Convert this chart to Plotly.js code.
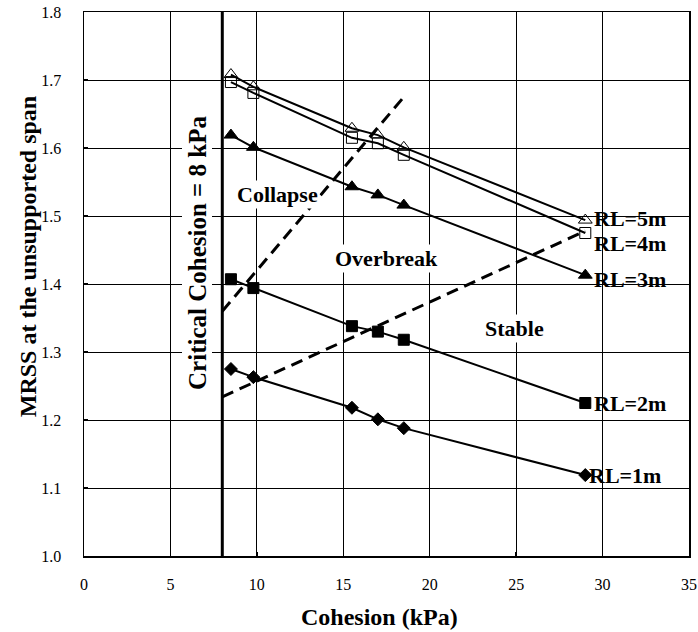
<!DOCTYPE html>
<html>
<head>
<meta charset="utf-8">
<script src="https://cdn.plot.ly/plotly-3.0.1.min.js"></script>
<style>html,body{margin:0;padding:0;background:#fff;}</style>
</head>
<body>
<div id="chart" style="width:698px;height:632px;"></div>
<script>
// Data
const cohesion = [8.5, 9.8, 15.5, 17.0, 18.5, 29.0];
const rl5 = [1.708, 1.690, 1.629, 1.619, 1.601, 1.494];
const rl4 = [1.697, 1.681, 1.615, 1.607, 1.590, 1.475];
const rl3 = [1.619, 1.601, 1.543, 1.531, 1.516, 1.413];
const rl2 = [1.407, 1.394, 1.338, 1.330, 1.318, 1.225];
const rl1 = [1.275, 1.263, 1.218, 1.201, 1.188, 1.119];
const seriesNames = ['RL=1m', 'RL=2m', 'RL=3m', 'RL=4m', 'RL=5m'];
const criticalX = [8, 8];
const criticalY = [1.0, 1.8];
const collapseLineX = [8.0, 18.4];
const collapseLineY = [1.360, 1.672];
const stableLineX = [8.0, 29.0];
const stableLineY = [1.234, 1.478];

const FONT = 'Liberation Serif, Times New Roman, serif';
const lineW = 2;

function series(y, name, symbol, size) {
  return {
    x: cohesion, y: y, name: name, type: 'scatter', mode: 'lines+markers',
    line: {color: '#000', width: lineW},
    marker: {symbol: symbol, size: size, color: '#000', line: {color: '#000', width: 1}},
    cliponaxis: false
  };
}

const traces = [
  {x: criticalX, y: criticalY, mode: 'lines', line: {color: '#000', width: 3}, cliponaxis: false},
  {x: collapseLineX, y: collapseLineY, mode: 'lines', line: {color: '#000', width: 3, dash: '12px,7px'}},
  {x: stableLineX, y: stableLineY, mode: 'lines', line: {color: '#000', width: 3, dash: '12px,7px'}},
  series(rl1, seriesNames[0], 'diamond', 10),
  series(rl2, seriesNames[1], 'square', 11),
  series(rl3, seriesNames[2], 'triangle-up', 12),
  series(rl4, seriesNames[3], 'square-open', 11),
  series(rl5, seriesNames[4], 'triangle-up-open', 12)
];

const endY = [rl1[5], rl2[5], rl3[5] - 0.006, rl4[5] - 0.015, rl5[5] + 0.003];
const annotations = seriesNames.map((t, i) => ({
  x: cohesion[5], y: endY[i], xref: 'x', yref: 'y', text: t, showarrow: false,
  xanchor: 'left', yanchor: 'middle', xshift: i === 0 ? 2 : 7,
  font: {family: FONT, size: 22, color: '#000', weight: 'bold'}
}));
const regionFont = {family: FONT, size: 22, color: '#000', weight: 'bold'};
annotations.push(
  {x: 11.18, y: 1.531, text: 'Collapse', showarrow: false, bgcolor: '#fff', font: regionFont},
  {x: 17.5, y: 1.438, text: 'Overbreak', showarrow: false, bgcolor: '#fff', font: regionFont},
  {x: 24.9, y: 1.334, text: 'Stable', showarrow: false, bgcolor: '#fff', font: regionFont},
  {x: 6.55, y: 1.446, text: 'Critical Cohesion = 8 kPa', textangle: -90, showarrow: false,
   bgcolor: '#fff', font: {family: FONT, size: 25, color: '#000', weight: 'bold'}},
  {xref: 'paper', yref: 'paper', x: -0.0926, y: 0.551, text: 'MRSS at the unsupported span',
   textangle: -90, showarrow: false, xanchor: 'center', yanchor: 'middle',
   font: {family: FONT, size: 24, color: '#000', weight: 'bold'}},
  {xref: 'paper', yref: 'paper', x: 0.489, y: -0.112, text: 'Cohesion (kPa)',
   showarrow: false, xanchor: 'center', yanchor: 'middle',
   font: {family: FONT, size: 24, color: '#000', weight: 'bold'}}
);

const layout = {
  width: 698, height: 632,
  margin: {l: 84, r: 9, t: 12, b: 76},
  paper_bgcolor: '#fff', plot_bgcolor: '#fff',
  showlegend: false,
  font: {family: FONT, color: '#000'},
  xaxis: {
    range: [0, 35], dtick: 5, tick0: 0,
    showgrid: true, gridcolor: '#000', gridwidth: 1,
    zeroline: false, showline: true, mirror: true, linecolor: '#000', linewidth: 1.5,
    ticks: 'inside', ticklen: 4, tickcolor: '#000', tickwidth: 1.5,
    tickfont: {family: FONT, size: 16, color: '#000'},
    ticklabelstandoff: 13
  },
  yaxis: {
    range: [1.0, 1.8], dtick: 0.1, tick0: 1.0, tickformat: '.1f',
    showgrid: true, gridcolor: '#000', gridwidth: 1,
    zeroline: false, showline: true, mirror: true, linecolor: '#000', linewidth: 1.5,
    ticks: 'inside', ticklen: 4, tickcolor: '#000', tickwidth: 1.5,
    tickfont: {family: FONT, size: 16, color: '#000'},
    ticklabelstandoff: 18
  },
  annotations: annotations
};

Plotly.newPlot('chart', traces, layout, {staticPlot: true, displayModeBar: false});
</script>
</body>
</html>
